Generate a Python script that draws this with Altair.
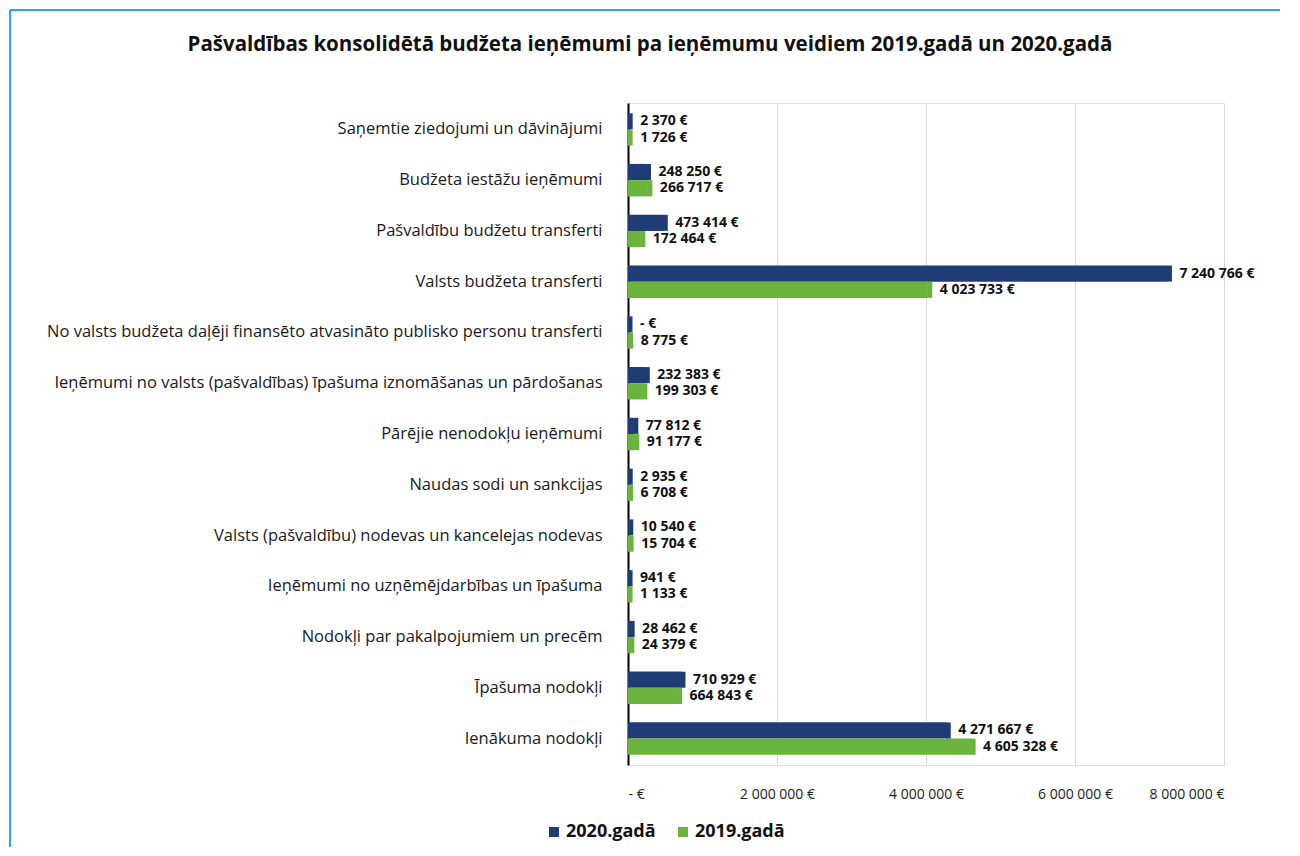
import altair as alt
import pandas as pd

categories = [
    "Saņemtie ziedojumi un dāvinājumi",
    "Budžeta iestāžu ieņēmumi",
    "Pašvaldību budžetu transferti",
    "Valsts budžeta transferti",
    "No valsts budžeta daļēji finansēto atvasināto publisko personu transferti",
    "Ieņēmumi no valsts (pašvaldības) īpašuma iznomāšanas un pārdošanas",
    "Pārējie nenodokļu ieņēmumi",
    "Naudas sodi un sankcijas",
    "Valsts (pašvaldību) nodevas un kancelejas nodevas",
    "Ieņēmumi no uzņēmējdarbības un īpašuma",
    "Nodokļi par pakalpojumiem un precēm",
    "Īpašuma nodokļi",
    "Ienākuma nodokļi",
]
values_2020 = [2370, 248250, 473414, 7240766, 0, 232383, 77812, 2935, 10540, 941, 28462, 710929, 4271667]
values_2019 = [1726, 266717, 172464, 4023733, 8775, 199303, 91177, 6708, 15704, 1133, 24379, 664843, 4605328]
series = ["2020.gadā", "2019.gadā"]
colors = ["#1F3C74", "#6AB43E"]
x_ticks = [0, 2000000, 4000000, 6000000, 8000000]


def fmt(v):
    return "-   €" if v == 0 else f"{v:,}".replace(",", " ") + " €"


rows = []
for c, a, b in zip(categories, values_2020, values_2019):
    rows.append(dict(cat=c, year=series[0], value=a, label=fmt(a)))
    rows.append(dict(cat=c, year=series[1], value=b, label=fmt(b)))
df = pd.DataFrame(rows)

FONT = "Open Sans"

y = alt.Y(
    "cat:N", sort=categories, title=None,
    scale=alt.Scale(paddingInner=0.36, paddingOuter=0.2),
    axis=alt.Axis(labelFont=FONT, labelFontSize=16.5, labelColor="#1a1a1a", labelPadding=26,
                  ticks=False, domainColor="#000000", domainWidth=2, labelLimit=700, grid=False),
)
yoff = alt.YOffset("year:N", sort=series)
x = alt.X(
    "value:Q", title=None, scale=alt.Scale(domain=[0, 8000000], nice=False),
    axis=alt.Axis(values=x_ticks,
                  labelExpr="datum.value == 0 ? '-   €' : join(split(format(datum.value, ','), ','), ' ') + ' €'",
                  grid=True, gridColor="#D9D9D9", domain=False, ticks=False, labelPadding=22,
                  labelFont=FONT, labelFontSize=14, labelColor="#222222"),
)
color = alt.Color("year:N", sort=series, scale=alt.Scale(domain=series, range=colors),
                  legend=alt.Legend(title=None, orient="none", legendX=-83, legendY=720,
                                    direction="horizontal", symbolType="square", symbolSize=100,
                                    labelOffset=3,
                                    labelFont=FONT, labelFontSize=18, labelFontWeight="bold",
                                    labelColor="#111111", columnPadding=18))

frame_src = pd.DataFrame({"f": [0]})
frame_top = alt.Chart(frame_src).mark_rule(stroke="#2AA7E0", strokeWidth=2).encode(
    x=alt.value(-618), x2=alt.value(652), y=alt.value(-93))
frame_left = alt.Chart(frame_src).mark_rule(stroke="#2AA7E0", strokeWidth=2).encode(
    x=alt.value(-618), y=alt.value(-93), y2=alt.value(744))

bars = alt.Chart(df).mark_bar().encode(y=y, yOffset=yoff, x=x, color=color)
depth = alt.Chart(df).mark_tick(orient="vertical", thickness=5, size=16, xOffset=2, opacity=1).encode(
    y=y, yOffset=yoff, x="value:Q", color=color)
text = alt.Chart(df).mark_text(align="left", dx=12, font=FONT, fontSize=14, fontWeight="bold",
                               color="#111111").encode(y=y, yOffset=yoff, x="value:Q", text="label:N")

chart = alt.layer(frame_top, frame_left, bars, depth, text).properties(
    width=596, height=662,
    title=alt.Title("Pašvaldības konsolidētā budžeta ieņēmumi pa ieņēmumu veidiem 2019.gadā un 2020.gadā",
                    font=FONT, fontSize=20.5, fontWeight="bold", color="#111111", dx=-276, offset=-46,
                    anchor="middle"),
    autosize="none",
    padding={"left": 620, "top": 95, "right": 68, "bottom": 83},
).configure_view(stroke=None).configure(background="white")

chart.save("out.html", embed_options={"renderer": "svg", "actions": False})
